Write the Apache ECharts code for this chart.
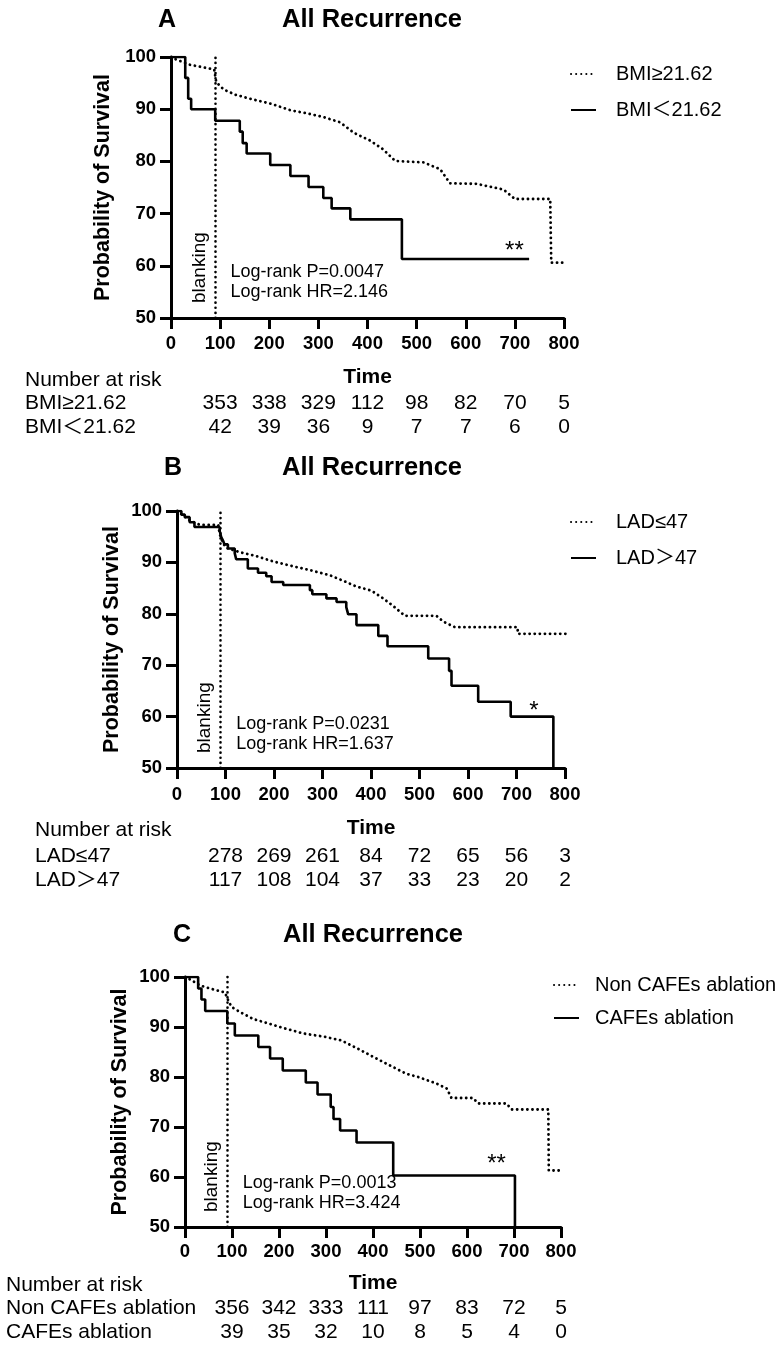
<!DOCTYPE html>
<html>
<head>
<meta charset="utf-8">
<script src="https://cdn.jsdelivr.net/npm/echarts@6/dist/echarts.min.js"></script>
<style>
html, body { margin: 0; padding: 0; background: #fff; }
#chart { width: 779px; height: 1350px; }
</style>
</head>
<body>
<div id="chart"></div>
<script>
// ---- data ----
// panel A: BMI
var bmiHighT = [0, 11, 39, 88, 92, 107, 130, 161, 205, 243, 277, 310, 344, 372, 405, 432, 456, 514, 548, 568, 622, 677, 700, 772, 774, 797];
var bmiHighS = [100, 99.5, 98.5, 97.6, 95.2, 93.8, 92.8, 92.0, 91.0, 89.8, 89.2, 88.5, 87.5, 85.5, 84.0, 82.3, 80.1, 79.8, 78.5, 75.8, 75.7, 74.6, 72.8, 72.8, 60.6, 60.6];
var bmiLowT = [0, 29, 35, 41, 90, 140, 146, 154, 202, 243, 280, 310, 327, 365, 470, 729];
var bmiLowS = [100, 96.0, 92.0, 90.0, 87.8, 85.7, 83.5, 81.5, 79.3, 77.2, 75.1, 73.0, 71.0, 68.9, 61.3, 61.3];
// panel B: LAD
var ladLowT = [0, 12, 26, 47, 85, 88, 95, 102, 129, 164, 198, 232, 274, 315, 346, 370, 401, 425, 446, 470, 535, 549, 573, 702, 703, 803];
var ladLowS = [100, 99.2, 98.2, 97.3, 97.3, 95.5, 93.7, 92.8, 92.0, 91.2, 90.2, 89.4, 88.5, 87.5, 86.3, 85.3, 84.5, 83.0, 81.5, 79.6, 79.6, 78.5, 77.4, 77.4, 76.1, 76.1];
var ladHighT = [0, 9, 16, 26, 36, 88, 91, 95, 98, 105, 119, 122, 146, 167, 184, 195, 219, 274, 279, 308, 329, 349, 353, 370, 415, 434, 518, 561, 566, 621, 688, 776];
var ladHighS = [100, 99.3, 98.8, 97.8, 96.9, 96.1, 95.0, 94.2, 93.5, 92.7, 91.8, 90.6, 88.8, 88.0, 87.3, 86.2, 85.6, 84.6, 83.8, 83.0, 82.3, 81.3, 79.9, 77.8, 75.7, 73.7, 71.3, 68.9, 66.0, 62.9, 60.0, 50];
// panel C: CAFEs
var nonCafeT = [0, 11, 32, 53, 85, 92, 99, 117, 145, 174, 209, 252, 294, 333, 365, 401, 436, 472, 496, 535, 557, 567, 613, 624, 684, 695, 773, 774, 801];
var nonCafeS = [100, 99.5, 98.3, 97.7, 96.9, 95.3, 94.0, 93.0, 91.6, 90.8, 89.8, 88.7, 88.1, 87.3, 85.8, 84.0, 82.3, 80.6, 80.0, 78.7, 77.7, 75.8, 75.8, 74.7, 74.7, 73.5, 73.5, 61.3, 61.3];
var cafeT = [0, 28, 35, 43, 90, 106, 156, 181, 208, 257, 282, 310, 316, 330, 365, 443, 702];
var cafeS = [100, 97.7, 95.5, 93.2, 90.7, 88.3, 86.0, 83.7, 81.3, 78.9, 76.5, 74.0, 71.6, 69.3, 66.9, 60.3, 50];

// number at risk
var riskCols = [100, 200, 300, 400, 500, 600, 700, 800];
var riskBmiHigh = [353, 338, 329, 112, 98, 82, 70, 5];
var riskBmiLow = [42, 39, 36, 9, 7, 7, 6, 0];
var riskLadLow = [278, 269, 261, 84, 72, 65, 56, 3];
var riskLadHigh = [117, 108, 104, 37, 33, 23, 20, 2];
var riskNonCafe = [356, 342, 333, 111, 97, 83, 72, 5];
var riskCafe = [39, 35, 32, 10, 8, 5, 4, 0];

var panelLetters = ['A', 'B', 'C'];
var groupNames = [['BMI≥21.62', 'BMI＜21.62'], ['LAD≤47', 'LAD＞47'], ['Non CAFEs ablation', 'CAFEs ablation']];
var logRankP = ['Log-rank P=0.0047', 'Log-rank P=0.0231', 'Log-rank P=0.0013'];
var logRankHR = ['Log-rank HR=2.146', 'Log-rank HR=1.637', 'Log-rank HR=3.424'];
var sigMarks = ['**', '*', '**'];

var curves = [
    [[bmiHighT, bmiHighS], [bmiLowT, bmiLowS]],
    [[ladLowT, ladLowS], [ladHighT, ladHighS]],
    [[nonCafeT, nonCafeS], [cafeT, cafeS]]
];
var risks = [[riskBmiHigh, riskBmiLow], [riskLadLow, riskLadHigh], [riskNonCafe, riskCafe]];

// ---- layout ----
var FONT = "'Liberation Sans', Arial, 'Noto Sans CJK SC', sans-serif";
var DOTS = [0.1, 5];
var layout = [
    {grid: {left: 171, top: 57, width: 393, height: 261}, letter: [167, 20], title: [372, 20],
     legend: [570, 64, 16, 15], nameGap: 56, timeGap: 49, labelGap: 17,
     rowX: 25, rowY: [380, 403, 427], stat: [121, 58.9, 54.9], star: [699, 63.7]},
    {grid: {left: 177, top: 511, width: 388, height: 257}, letter: [173, 468], title: [372, 468],
     legend: [570, 512, 16, 15], nameGap: 54, timeGap: 50, labelGap: 18,
     rowX: 35, rowY: [830, 856, 880], stat: [122, 58.6, 54.6], star: [736, 61.9]},
    {grid: {left: 185, top: 977, width: 376, height: 250}, letter: [182, 935], title: [373, 935],
     legend: [553, 975, 13, 11], nameGap: 54, timeGap: 46, labelGap: 16,
     rowX: 6, rowY: [1285, 1308, 1332], stat: [123, 58.7, 54.7], star: [663, 63.5]}
];

var chart = echarts.init(document.getElementById('chart'));

function zip(t, s) {
    return t.map(function (v, k) { return [v, s[k]]; });
}

var grids = [], xAxes = [], yAxes = [], series = [], legends = [];
layout.forEach(function (p, i) {
    grids.push(p.grid);
    xAxes.push({
        type: 'value', gridIndex: i, min: 0, max: 800, interval: 100,
        name: 'Time', nameLocation: 'middle', nameGap: p.timeGap,
        nameTextStyle: {fontFamily: FONT, fontWeight: 'bold', fontSize: 21, color: '#000'},
        axisLine: {show: true, lineStyle: {color: '#000', width: 3}},
        axisTick: {show: true, length: 11, lineStyle: {color: '#000', width: 3}},
        axisLabel: {margin: p.labelGap, fontFamily: FONT, fontWeight: 'bold', fontSize: 18.5, color: '#000'},
        splitLine: {show: false}
    });
    yAxes.push({
        type: 'value', gridIndex: i, min: 50, max: 100, interval: 10,
        name: 'Probability of Survival', nameLocation: 'middle', nameGap: p.nameGap,
        nameTextStyle: {fontFamily: FONT, fontWeight: 'bold', fontSize: 21.5, color: '#000'},
        axisLine: {show: true, lineStyle: {color: '#000', width: 3}},
        axisTick: {show: true, length: 11, lineStyle: {color: '#000', width: 3}},
        axisLabel: {margin: 15, fontFamily: FONT, fontWeight: 'bold', fontSize: 18.5, color: '#000'},
        splitLine: {show: false}
    });
    // dotted group (larger cohort)
    series.push({
        type: 'line', name: groupNames[i][0], xAxisIndex: i, yAxisIndex: i,
        data: zip(curves[i][0][0], curves[i][0][1]),
        symbol: 'none', animation: false,
        itemStyle: {color: '#000'},
        lineStyle: {color: '#000', width: 2.8, type: DOTS, cap: 'round'}
    });
    // solid group, step KM curve
    series.push({
        type: 'line', name: groupNames[i][1], xAxisIndex: i, yAxisIndex: i,
        data: zip(curves[i][1][0], curves[i][1][1]),
        step: 'end', symbol: 'none', animation: false,
        itemStyle: {color: '#000'},
        lineStyle: {color: '#000', width: 2.6},
        markLine: {
            silent: true, symbol: ['none', 'none'], animation: false,
            lineStyle: {color: '#000', type: DOTS, cap: 'round', width: 2.6},
            label: {show: true, position: 'insideStartTop', formatter: 'blanking', distance: [15, 6],
                    fontFamily: FONT, fontSize: 19, color: '#000'},
            data: [[{coord: [90, 50]}, {coord: [90, 100]}]]
        }
    });
    legends.push({
        data: groupNames[i], orient: 'vertical', left: p.legend[0], top: p.legend[1],
        itemGap: p.legend[2], itemWidth: 25, itemHeight: 10, padding: 0, selectedMode: false,
        itemStyle: {opacity: 0},
        textStyle: {fontFamily: FONT, fontSize: 20, color: '#000', padding: [0, 0, 0, p.legend[3]]}
    });
});

chart.setOption({
    animation: false,
    grid: grids, xAxis: xAxes, yAxis: yAxes, series: series, legend: legends
});

// ---- titles, statistics and number-at-risk table ----
var g = [];
function txt(x, y, text, size, weight, align) {
    g.push({type: 'text', x: x, y: y, silent: true,
        style: {text: text, fontFamily: FONT, fontSize: size, fontWeight: weight || 'normal',
                fill: '#000', align: align || 'left', verticalAlign: 'middle'}});
}
layout.forEach(function (p, i) {
    txt(p.letter[0], p.letter[1], panelLetters[i], 25, 'bold', 'center');
    txt(p.title[0], p.title[1], 'All Recurrence', 25.5, 'bold', 'center');
    var a = chart.convertToPixel({gridIndex: i}, [p.stat[0], p.stat[1]]);
    var b = chart.convertToPixel({gridIndex: i}, [p.stat[0], p.stat[2]]);
    txt(a[0], a[1], logRankP[i], 18);
    txt(b[0], b[1], logRankHR[i], 18);
    var s = chart.convertToPixel({gridIndex: i}, p.star);
    txt(s[0], s[1] + 5, sigMarks[i], 24, 'normal', 'center');

    txt(p.rowX, p.rowY[0], 'Number at risk', 21);
    for (var r = 0; r < 2; r++) {
        txt(p.rowX, p.rowY[r + 1], groupNames[i][r], 21);
        risks[i][r].forEach(function (n, k) {
            var x = chart.convertToPixel({xAxisIndex: i}, riskCols[k]);
            txt(x, p.rowY[r + 1], String(n), 21, 'normal', 'center');
        });
    }
});
chart.setOption({graphic: g});
</script>
</body>
</html>
